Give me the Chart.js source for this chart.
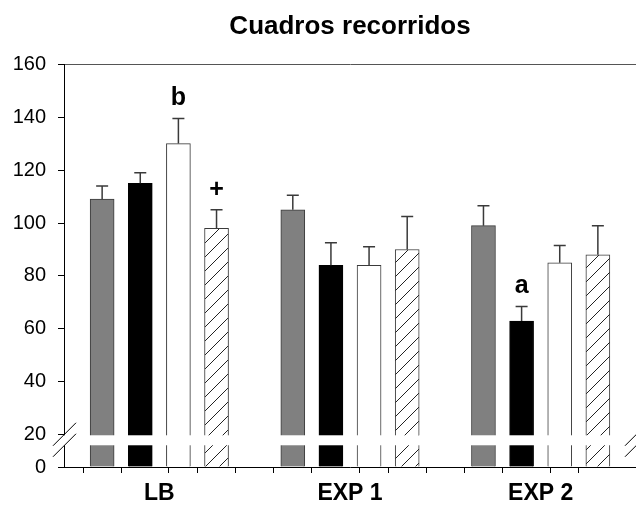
<!DOCTYPE html>
<html>
<head>
<meta charset="utf-8">
<script src="https://cdn.jsdelivr.net/npm/chart.js@4/dist/chart.umd.min.js"></script>
<style>
  body { margin: 0; background: #fff; }
  canvas { display: block; }
</style>
</head>
<body>
<canvas id="cuadros" width="636" height="508"></canvas>
<script>
const groups = ['LB', 'EXP 1', 'EXP 2'];
const yTicks = [0, 20, 40, 60, 80, 100, 120, 140, 160];

// medias y error estándar por grupo
const grey = [109, 105, 99];
const greyErr = [5, 5.5, 7.5];
const black = [115, 84, 63];
const blackErr = [4, 8.5, 5.5];
const white = [130, 84, 85];
const whiteErr = [9.5, 7, 6.5];
const hatched = [98, 90, 88];
const hatchedErr = [7, 12.5, 11];

// letras de significancia: grupo, serie, texto
const marks = [
  { group: 0, series: 2, text: 'b' },
  { group: 0, series: 3, text: '+' },
  { group: 2, series: 1, text: 'a' }
];

const BREAK_AT = 20;
const LOWER_FRAC = 0.08; // parte del eje que ocupa el tramo 0-20
const SLOTS = 5; // 4 barras + hueco por grupo

Chart.defaults.font.family = '"Liberation Sans", Arial, sans-serif';
Chart.defaults.color = '#000';

// eje Y cortado entre 0 y 20
class BrokenScale extends Chart.LinearScale {
  getPixelForValue(value) {
    const h = this.bottom - this.top;
    const low = h * LOWER_FRAC;
    if (value <= BREAK_AT) return this.bottom - (value / BREAK_AT) * low;
    return this.bottom - low - ((value - BREAK_AT) / (this.max - BREAK_AT)) * (h - low);
  }
  getValueForPixel(px) {
    const h = this.bottom - this.top;
    const low = h * LOWER_FRAC;
    const d = this.bottom - px;
    if (d <= low) return (d / low) * BREAK_AT;
    return BREAK_AT + ((d - low) / (h - low)) * (this.max - BREAK_AT);
  }
}
BrokenScale.id = 'broken';
BrokenScale.defaults = Chart.LinearScale.defaults;
Chart.register(BrokenScale);

function hatchPattern() {
  const c = document.createElement('canvas');
  c.width = 14;
  c.height = 14;
  const g = c.getContext('2d');
  g.fillStyle = '#fff';
  g.fillRect(0, 0, 14, 14);
  g.strokeStyle = '#222';
  g.lineWidth = 1;
  g.beginPath();
  g.moveTo(-1, 15);
  g.lineTo(15, -1);
  g.stroke();
  return g.createPattern(c, 'repeat');
}

const series = [
  { values: grey, err: greyErr, fill: '#808080', border: '#3a3a3a' },
  { values: black, err: blackErr, fill: '#000', border: '#000' },
  { values: white, err: whiteErr, fill: '#fff', border: '#3a3a3a' },
  { values: hatched, err: hatchedErr, fill: hatchPattern(), border: '#3a3a3a' }
];

const datasets = series.map((s, i) => ({
  label: 'Serie ' + (i + 1),
  data: s.values.map((v, g) => ({ x: g * SLOTS + i, y: v })),
  err: s.err,
  backgroundColor: s.fill,
  borderColor: s.border,
  borderWidth: 1,
  grouped: false,
  barThickness: 24
}));

const groupCenters = groups.map((_, g) => g * SLOTS + 1.5);

const errorBars = {
  id: 'errorBars',
  afterDatasetsDraw(chart) {
    const { ctx } = chart;
    const y = chart.scales.y;
    ctx.save();
    ctx.strokeStyle = '#3a3a3a';
    ctx.lineWidth = 1.5;
    chart.data.datasets.forEach((ds, i) => {
      chart.getDatasetMeta(i).data.forEach((bar, j) => {
        const top = y.getPixelForValue(ds.data[j].y + ds.err[j]);
        ctx.beginPath();
        ctx.moveTo(bar.x, bar.y);
        ctx.lineTo(bar.x, top);
        ctx.moveTo(bar.x - 6, top);
        ctx.lineTo(bar.x + 6, top);
        ctx.stroke();
      });
    });
    ctx.font = 'bold 25px "Liberation Sans", Arial, sans-serif';
    ctx.fillStyle = '#000';
    ctx.textAlign = 'center';
    ctx.textBaseline = 'alphabetic';
    marks.forEach(m => {
      const ds = chart.data.datasets[m.series];
      const bar = chart.getDatasetMeta(m.series).data[m.group];
      const top = y.getPixelForValue(ds.data[m.group].y + ds.err[m.group]);
      ctx.fillText(m.text, bar.x, top - 13);
    });
    ctx.restore();
  }
};

// corte del eje: franja blanca y dobles barras
const axisBreak = {
  id: 'axisBreak',
  afterDraw(chart) {
    const { ctx, chartArea } = chart;
    const y20 = chart.scales.y.getPixelForValue(BREAK_AT);
    const gap = 11;
    ctx.save();
    ctx.fillStyle = '#fff';
    ctx.fillRect(chartArea.left - 1, y20 + 0.5, chart.width, gap - 1);
    ctx.strokeStyle = '#000';
    ctx.lineWidth = 1;
    [chartArea.left, chartArea.right].forEach(x => {
      [y20, y20 + gap].forEach(yy => {
        ctx.beginPath();
        ctx.moveTo(x - 11, yy + 11);
        ctx.lineTo(x + 12, yy - 12);
        ctx.stroke();
      });
    });
    ctx.restore();
  }
};

const isTick = c => c.tick && Number.isInteger(c.tick.value);

new Chart(document.getElementById('cuadros'), {
  type: 'bar',
  data: { datasets },
  options: {
    responsive: false,
    animation: false,
    layout: { padding: 0 },
    plugins: {
      legend: { display: false },
      tooltip: { enabled: false },
      title: {
        display: true,
        text: 'Cuadros recorridos',
        fullSize: false,
        color: '#000',
        font: { size: 26, weight: 'bold' },
        padding: { top: 11, bottom: 22 }
      }
    },
    scales: {
      x: {
        type: 'linear',
        min: -1,
        max: 14,
        offset: false,
        afterBuildTicks: axis => {
          const t = [];
          for (let i = 0; i < groups.length * SLOTS - 1; i++) t.push(i);
          axis.ticks = t.concat(groupCenters).sort((a, b) => a - b).map(v => ({ value: v }));
        },
        afterFit: s => { s.height = 41; },
        ticks: {
          autoSkip: false,
          maxRotation: 0,
          padding: 7,
          font: { size: 23, weight: 'bold' },
          color: '#000',
          callback: v => {
            const i = groupCenters.indexOf(v);
            return i >= 0 ? groups[i] : '';
          }
        },
        grid: {
          drawOnChartArea: false,
          tickLength: 6,
          color: c => isTick(c) ? '#000' : 'rgba(0,0,0,0)',
          tickColor: c => isTick(c) ? '#000' : 'rgba(0,0,0,0)'
        },
        border: { color: '#000', width: 1 }
      },
      y: {
        type: 'broken',
        min: 0,
        max: 160,
        afterBuildTicks: axis => { axis.ticks = yTicks.map(v => ({ value: v })); },
        afterFit: s => { s.width = 64; },
        ticks: {
          padding: 12,
          font: { size: 20 },
          color: '#000'
        },
        grid: {
          tickLength: 6,
          color: c => c.tick && c.tick.value === 160 ? '#555' : 'rgba(0,0,0,0)',
          tickColor: '#000'
        },
        border: { color: '#000', width: 1 }
      }
    }
  },
  plugins: [errorBars, axisBreak]
});
</script>
</body>
</html>
